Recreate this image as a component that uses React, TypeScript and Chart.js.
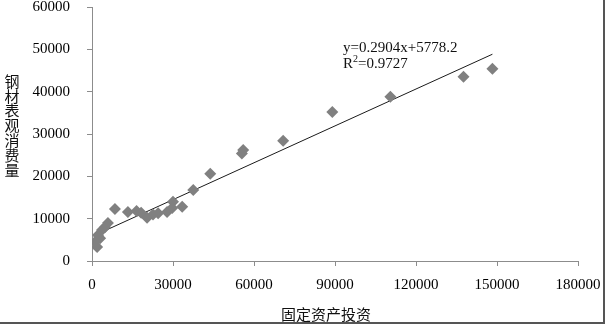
import React, { useEffect, useRef } from "react";
import { Chart, registerables } from "chart.js";

Chart.register(...registerables);

const xValues = [1100, 1900, 2200, 3000, 3700, 4800, 5900, 8500, 13300, 16500, 18200, 20400, 22600, 24500, 27800, 29700, 30000, 33400, 37500, 43800, 55500, 56000, 70800, 89000, 110500, 137600, 148300];
const yValues = [4500, 3300, 6100, 5400, 7300, 8000, 9000, 12300, 11600, 11800, 11400, 10200, 11000, 11300, 11600, 12500, 14000, 12800, 16800, 20600, 25400, 26200, 28400, 35200, 38800, 43500, 45400];
const trendSlope = 0.2904;
const trendIntercept = 5778.2;
const trendXRange = [1000, 148300];
const xTicks = [0, 30000, 60000, 90000, 120000, 150000, 180000];
const yTicks = [0, 10000, 20000, 30000, 40000, 50000, 60000];
const xTitle = "固定资产投资";
const yTitle = "钢材表观消费量";
const equationText = "y=0.2904x+5778.2";
const r2Value = "0.9727";

const SERIF = "'Liberation Serif', 'Times New Roman', serif";
const CJK = "'Noto Sans CJK SC', sans-serif";

export default function App() {
  const ref = useRef<HTMLCanvasElement | null>(null);
  useEffect(() => {
    document.body.style.margin = "0";
    const canvas = ref.current;
    if (!canvas) return;
    const points = xValues.map((x, i) => ({ x, y: yValues[i] }));
    const trend = trendXRange.map((x) => ({ x, y: trendSlope * x + trendIntercept }));

    const overlay = {
      id: "overlay",
      afterDraw(chart: any) {
        const ctx = chart.ctx;
        ctx.save();
        ctx.fillStyle = "#111";
        ctx.textBaseline = "alphabetic";
        ctx.textAlign = "left";
        ctx.font = `15px ${SERIF}`;
        ctx.fillText(equationText, 343, 52);
        ctx.fillText("R", 343, 68);
        const rw = ctx.measureText("R").width;
        ctx.font = `10px ${SERIF}`;
        ctx.fillText("2", 343 + rw, 62);
        const sw = ctx.measureText("2").width;
        ctx.font = `15px ${SERIF}`;
        ctx.fillText("=" + r2Value, 343 + rw + sw, 68);
        ctx.font = `15px ${CJK}`;
        ctx.textAlign = "center";
        ctx.textBaseline = "middle";
        ctx.fillText(xTitle, 326, 314);
        const chars = Array.from(yTitle);
        chars.forEach((c, i) => {
          ctx.fillText(c, 12, 81 + i * 14.8);
        });
        ctx.fillStyle = "#555";
        ctx.fillRect(603, 0, 2, 324);
        ctx.fillRect(0, 322, 605, 2);
        ctx.restore();
      },
    };

    const chart = new Chart(canvas, {
      type: "scatter",
      data: {
        datasets: [
          {
            type: "line",
            data: trend,
            borderColor: "#1a1a1a",
            borderWidth: 1,
            pointRadius: 0,
            fill: false,
            order: 1,
          } as any,
          {
            data: points,
            pointStyle: "rectRot",
            pointRadius: 6,
            backgroundColor: "#808080",
            borderColor: "#808080",
            borderWidth: 0,
            order: 0,
          },
        ],
      },
      options: {
        animation: false,
        responsive: true,
        maintainAspectRatio: false,
        layout: { padding: { top: 7, right: 27, left: 0, bottom: 0 } },
        plugins: { legend: { display: false }, tooltip: { enabled: false } },
        scales: {
          x: {
            type: "linear",
            min: 0,
            max: 180000,
            afterBuildTicks: (scale: any) => {
              scale.ticks = xTicks.map((v) => ({ value: v }));
            },
            afterFit: (scale: any) => {
              scale.height = 63;
              scale.paddingLeft = 0;
              scale.paddingRight = 0;
            },
            grid: { drawOnChartArea: false, drawTicks: true, tickLength: 5, color: "#8c8c8c" },
            border: { color: "#8c8c8c", width: 1 },
            ticks: {
              color: "#000",
              padding: 12,
              maxRotation: 0,
              font: { family: SERIF, size: 15, lineHeight: 1 },
              callback: (v: any) => String(v),
            },
          },
          y: {
            type: "linear",
            min: 0,
            max: 60000,
            afterBuildTicks: (scale: any) => {
              scale.ticks = yTicks.map((v) => ({ value: v }));
            },
            afterFit: (scale: any) => {
              scale.width = 92;
              scale.paddingTop = 0;
              scale.paddingBottom = 0;
            },
            grid: { drawOnChartArea: false, drawTicks: true, tickLength: 5, color: "#8c8c8c" },
            border: { color: "#8c8c8c", width: 1 },
            ticks: {
              color: "#000",
              padding: 17,
              font: { family: SERIF, size: 15, lineHeight: 1 },
              callback: (v: any) => String(v),
            },
          },
        },
      },
      plugins: [overlay],
    });
    return () => chart.destroy();
  }, []);
  return (
    <div style={{ position: "relative", width: 605, height: 324, background: "#fff" }}>
      <canvas ref={ref} />
    </div>
  );
}
